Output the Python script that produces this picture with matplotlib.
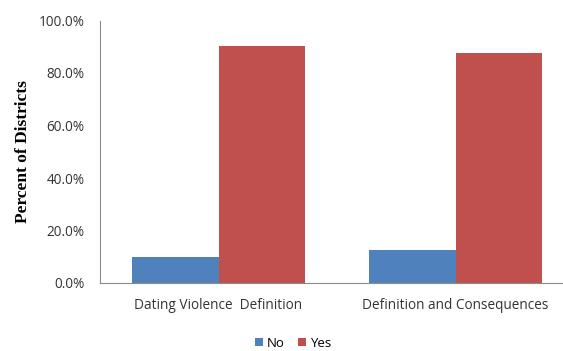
import matplotlib.pyplot as plt
from matplotlib.ticker import FuncFormatter

categories = ["Dating Violence  Definition", "Definition and Consequences"]
no_vals = [9.8, 12.4]
yes_vals = [90.2, 87.6]
series_names = ["No", "Yes"]
yticks = [0, 20, 40, 60, 80, 100]

fig = plt.figure(figsize=(5.63, 3.51), dpi=100)
ax = fig.add_axes([100 / 563, 68 / 351, 474 / 563, 262.5 / 351])

w = 0.363
x = range(len(categories))
ax.bar([i - w / 2 for i in x], no_vals, width=w, color="#4F81BD", label=series_names[0])
ax.bar([i + w / 2 for i in x], yes_vals, width=w, color="#C0504D", label=series_names[1])

ax.set_xlim(-0.5, 1.5)
ax.set_ylim(0, 100)
ax.set_yticks(yticks)
ax.yaxis.set_major_formatter(FuncFormatter(lambda v, p: f"{v:.1f}%"))
ax.set_xticks(list(x))
ax.set_xticklabels(categories)
ax.tick_params(axis="both", length=0, labelsize=9.8, colors="#333333", labelfontfamily="Open Sans")
ax.tick_params(axis="x", pad=11)
ax.tick_params(axis="y", pad=11)

for s in ["top", "right"]:
    ax.spines[s].set_visible(False)
for s in ["left", "bottom"]:
    ax.spines[s].set_color("#8c8c8c")

ax.set_ylabel("Percent of Districts", family="Liberation Serif", fontweight="bold",
              fontsize=12.5, labelpad=6)

fig.legend(loc="center", bbox_to_anchor=(0.52, 0.022), ncol=2, frameon=False,
           handlelength=0.6, handleheight=0.6, handletextpad=0.3,
           columnspacing=1.0, prop={"family": "Open Sans", "size": 9.5})

fig.savefig("out.png", dpi=100)
